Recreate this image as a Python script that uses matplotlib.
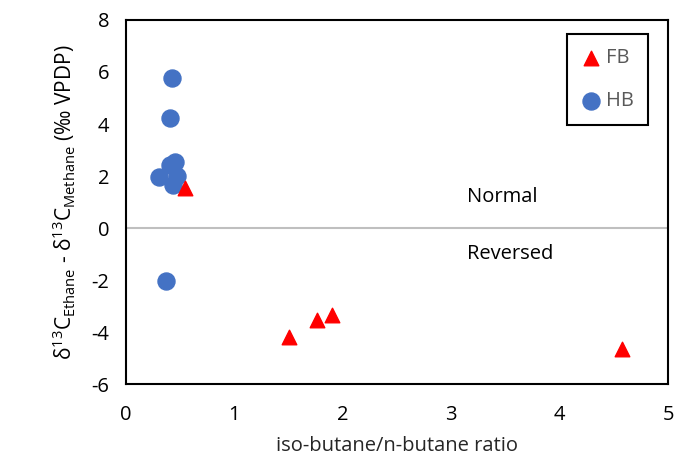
import matplotlib.pyplot as plt

plt.rcParams['font.family'] = ['Open Sans', 'DejaVu Sans']
plt.rcParams['axes.unicode_minus'] = False
plt.rcParams['mathtext.fontset'] = 'custom'
plt.rcParams['mathtext.rm'] = 'Open Sans'

# HB points
hb_x = [0.42, 0.41, 0.45, 0.41, 0.30, 0.47, 0.43, 0.37]
hb_y = [5.77, 4.23, 2.54, 2.42, 1.96, 2.00, 1.65, -2.04]

# FB points
fb_x = [0.54, 1.50, 1.76, 1.90, 4.58]
fb_y = [1.54, -4.19, -3.54, -3.35, -4.65]

x_ticks = [0, 1, 2, 3, 4, 5]
y_ticks = [-6, -4, -2, 0, 2, 4, 6, 8]

fig = plt.figure(figsize=(6.77, 4.65), dpi=100)
ax = fig.add_axes([126 / 677, 1 - 384 / 465, 542 / 677, 364 / 465])

ax.axhline(0, color='#bfbfbf', lw=1.5, zorder=1)
ax.scatter(fb_x, fb_y, marker='^', s=110, color='#ff0000', label='FB', zorder=3)
ax.scatter(hb_x, hb_y, marker='o', s=150, color='#4472c4', label='HB', zorder=2)

ax.set_xlim(0, 5)
ax.set_ylim(-6, 8)
ax.set_xticks(x_ticks)
ax.set_yticks(y_ticks)
ax.tick_params(axis='x', length=0, labelsize=14.5, pad=15)
ax.tick_params(axis='y', length=0, labelsize=14.5, pad=12)
for s in ax.spines.values():
    s.set_color('black')
    s.set_linewidth(1.5)

ax.text(3.15, 1.2, 'Normal', fontsize=14.5, va='center')
ax.text(3.15, -1.0, 'Reversed', fontsize=14.5, va='center')

ax.set_xlabel('iso-butane/n-butane ratio', fontsize=14.5, color='#262626', labelpad=8)
ax.set_ylabel(r'$\mathregular{\delta^{13}C_{Ethane}}$ - $\mathregular{\delta^{13}C_{Methane}}$ (‰ VPDP)',
              fontsize=15, labelpad=10)

leg = ax.legend(loc='upper right', bbox_to_anchor=(0.963, 0.962), fontsize=14.5,
                fancybox=False, edgecolor='black', framealpha=1,
                labelspacing=1.15, borderpad=0.7, borderaxespad=0,
                handletextpad=0.25, handlelength=1.0)
leg.get_frame().set_linewidth(1.5)
for t in leg.get_texts():
    t.set_color('#595959')

fig.savefig('out.png', dpi=100)
